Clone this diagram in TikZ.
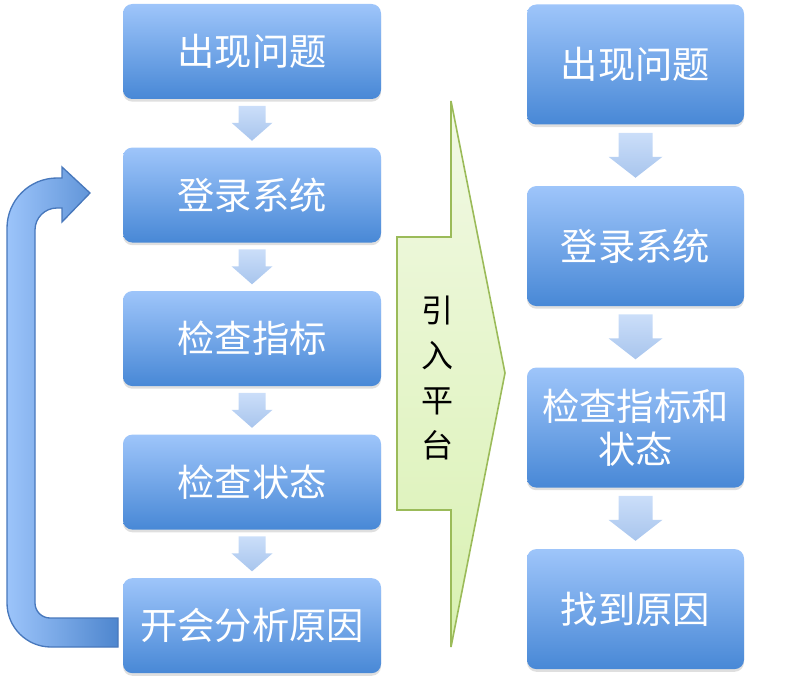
\documentclass[tikz,border=0pt]{standalone}
\usepackage{fontspec}
\newfontfamily\cjk{Noto Sans CJK SC}
\usetikzlibrary{positioning,shadows,calc}

\definecolor{boxtop}{RGB}{158,197,250}
\definecolor{boxbot}{RGB}{72,136,214}
\definecolor{arrtop}{RGB}{203,222,249}
\definecolor{arrbot}{RGB}{168,197,237}
\definecolor{greentop}{RGB}{242,249,229}
\definecolor{greenbot}{RGB}{217,241,178}
\definecolor{greenline}{RGB}{155,187,89}
\definecolor{loopfill}{RGB}{156,196,250}
\definecolor{loopdark}{RGB}{78,134,206}
\definecolor{loopline}{RGB}{72,120,188}

\tikzset{
  stepbox/.style={rounded corners=7pt, top color=boxtop, bottom color=boxbot,
    text=white, align=center, inner sep=0pt,
    font=\cjk\fontsize{28}{32}\selectfont,
    drop shadow={shadow xshift=0pt, shadow yshift=-2pt, opacity=0.25}},
  leftbox/.style={stepbox, minimum width=193.5pt, minimum height=71.25pt},
  rightbox/.style={stepbox, minimum width=162.75pt, minimum height=90pt},
  arrfill/.style={top color=arrtop, bottom color=arrbot}
}

% down arrow between two boxes: from, to, shaft half width, head half width, shaft length, head length
\newcommand\flowarrow[6]{%
  \coordinate (mid) at ($(#1.south)!0.5!(#2.north)$);
  \path[arrfill] ($(mid)+(-#3,-#5/2-#6/2)$) -- ++(2*#3,0) -- ++(0,#5)
    -- ++(#4-#3,0) -- ++(-#4,#6) -- ++(-#4,-#6) -- ++(#4-#3,0) -- cycle;}

\begin{document}
\begin{tikzpicture}[x=0.75pt,y=-0.75pt]
\useasboundingbox (0,0) rectangle (802,681);

% old way of working
\node[leftbox] (l1) at (252,51.5) {出现问题};
\node[leftbox, below=36pt of l1] (l2) {登录系统};
\node[leftbox, below=36pt of l2] (l3) {检查指标};
\node[leftbox, below=36pt of l3] (l4) {检查状态};
\node[leftbox, below=36pt of l4] (l5) {开会分析原因};

\foreach \a/\b in {l1/l2,l2/l3,l3/l4,l4/l5}
  \flowarrow{\a}{\b}{13.5}{20.5}{17}{18};

% loop back from the meeting to the login
\draw[loopline, line width=1pt, left color=loopfill, right color=loopdark]
  (118,647) -- (51,647) .. controls (26.7,647) and (7,627.3) .. (7,603)
  -- (7,228) .. controls (7,200.4) and (29.4,178) .. (57,178)
  -- (62,178) -- (62,167) -- (90,193) -- (62,222) -- (62,208) -- (57,208)
  .. controls (44.8,208) and (35,217.8) .. (35,230)
  -- (35,603) .. controls (35,611.3) and (41.7,618) .. (50,618)
  -- (118,618) -- cycle;

% platform arrow
\draw[greenline, line width=1.2pt, top color=greentop, bottom color=greenbot]
  (397,237) -- (451,237) -- (451,101) -- (505,373) -- (451,647)
  -- (451,510) -- (397,510) -- cycle;
\node[font=\cjk\fontsize{24}{33.75}\selectfont, align=center] (platform)
  at (437,378) {引\\入\\平\\台};

% new way of working
\node[rightbox] (r1) at (635.5,64.5) {出现问题};
\node[rightbox, below=45.75pt of r1] (r2) {登录系统};
\node[rightbox, below=45.75pt of r2] (r3) {检查指标和\\状态};
\node[rightbox, below=45.75pt of r3] (r4) {找到原因};

\foreach \a/\b in {r1/r2,r2/r3,r3/r4}
  \flowarrow{\a}{\b}{17}{27}{24}{21};
\end{tikzpicture}
\end{document}
